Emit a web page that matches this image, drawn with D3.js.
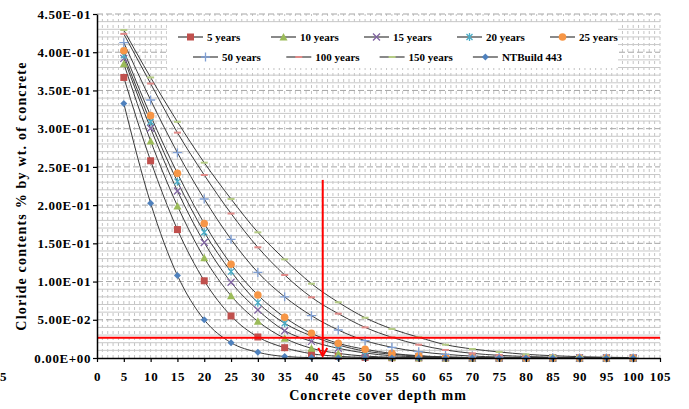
<!DOCTYPE html>
<html>
<head>
<meta charset="utf-8">
<script src="https://cdn.jsdelivr.net/npm/d3@7"></script>
<style>
  body { margin: 0; background: #fff; }
  text { font-family: "Liberation Serif", "Times New Roman", serif; font-weight: bold; fill: #000; }
</style>
</head>
<body>
<div id="chart"></div>
<script>
// depths (mm) at which every series is given
let depths = [5, 10, 15, 20, 25, 30, 35, 40, 45, 50, 55, 60, 65, 70, 75, 80, 85, 90, 95, 100];

// chloride content, one array per series
let years5   = [0.367, 0.258, 0.168, 0.101, 0.055, 0.0275, 0.0135, 0.0056, 0.0022, 0.0008, 0.0003, 0.0001, 0, 0, 0, 0, 0, 0, 0, 0];
let years10  = [0.385, 0.284, 0.199, 0.131, 0.0815, 0.048, 0.0258, 0.0127, 0.006, 0.0025, 0.001, 0.0004, 0.0001, 0, 0, 0, 0, 0, 0, 0];
let years15  = [0.392, 0.3005, 0.2185, 0.151, 0.099, 0.0628, 0.0357, 0.0218, 0.0127, 0.0065, 0.003, 0.0015, 0.0006, 0.0002, 0.0001, 0, 0, 0, 0, 0];
let years20  = [0.396, 0.309, 0.2307, 0.1645, 0.113, 0.0724, 0.0454, 0.0288, 0.017, 0.009, 0.005, 0.0025, 0.0011, 0.0005, 0.0002, 0.0001, 0, 0, 0, 0];
let years25  = [0.402, 0.317, 0.2416, 0.176, 0.1226, 0.0824, 0.0532, 0.0323, 0.0192, 0.0114, 0.006, 0.003, 0.0014, 0.0006, 0.0002, 0.0001, 0, 0, 0, 0];
let years50  = [0.4125, 0.3375, 0.2686, 0.208, 0.1553, 0.112, 0.080, 0.0554, 0.0366, 0.0227, 0.014, 0.0083, 0.0048, 0.0025, 0.0013, 0.0006, 0.0003, 0.0001, 0, 0];
let years100 = [0.424, 0.359, 0.2948, 0.2394, 0.189, 0.1448, 0.1086, 0.0794, 0.058, 0.0401, 0.0271, 0.0174, 0.0105, 0.0061, 0.0035, 0.002, 0.001, 0.0005, 0.0002, 0.0001];
let years150 = [0.429, 0.367, 0.309, 0.2555, 0.208, 0.1644, 0.129, 0.0972, 0.0729, 0.0527, 0.038, 0.0271, 0.0174, 0.0118, 0.0079, 0.0048, 0.003, 0.0017, 0.001, 0.0005];
let ntBuild  = [0.333, 0.2025, 0.108, 0.050, 0.020, 0.0075, 0.002, 0.0005, 0.0001, 0, 0, 0, 0, 0, 0, 0, 0, 0, 0, 0];

let seriesNames = ["5 years", "10 years", "15 years", "20 years", "25 years", "50 years", "100 years", "150 years", "NTBuild 443"];

// x ticks and y ticks
let xTicks = d3.range(0, 106, 5);
let yTicks = [0, 0.05, 0.10, 0.15, 0.20, 0.25, 0.30, 0.35, 0.40, 0.45];

// red guide: threshold level and the depth it is read at
let thresholdValue = 0.0266;
let arrowDepth = 42.1;
let arrowTopValue = 0.233;

let width = 689, height = 409;

let series = [
    {name: seriesNames[0], values: years5,   marker: "square",   color: "#c0504d"},
    {name: seriesNames[1], values: years10,  marker: "triangle", color: "#9bbb59"},
    {name: seriesNames[2], values: years15,  marker: "x",        color: "#8064a2"},
    {name: seriesNames[3], values: years20,  marker: "star",     color: "#4bacc6"},
    {name: seriesNames[4], values: years25,  marker: "circle",   color: "#f79646"},
    {name: seriesNames[5], values: years50,  marker: "plus",     color: "#7f9fd4"},
    {name: seriesNames[6], values: years100, marker: "dash",     color: "#e08a88"},
    {name: seriesNames[7], values: years150, marker: "dash",     color: "#b5cc85"},
    {name: seriesNames[8], values: ntBuild,  marker: "diamond",  color: "#4f81bd"}
];

let x = d3.scaleLinear().domain([0, 105]).range([97, 660]);
let y = d3.scaleLinear().domain([0, 0.45]).range([358, 14]);

let svg = d3.select("#chart")
    .append("svg")
    .attr("width", width)
    .attr("height", height);

// Grid: vertical dashed every 1 mm, horizontal every 0.01, dashed at the majors
let grid = svg.append("g");
grid.selectAll(".vgrid")
    .data(d3.range(1, 106))
    .enter()
    .append("line")
    .attr("x1", d => x(d)).attr("x2", d => x(d))
    .attr("y1", y(0)).attr("y2", y(0.45))
    .attr("stroke", "#c4c4c4")
    .attr("stroke-dasharray", "3,3");

grid.selectAll(".hgrid")
    .data(d3.range(1, 46).map(d => d / 100))
    .enter()
    .append("line")
    .attr("x1", x(0)).attr("x2", x(105))
    .attr("y1", d => y(d)).attr("y2", d => y(d))
    .attr("stroke", function (d, i) { return (i + 1) % 5 === 0 ? "#a6a6a6" : "#c8c8c8"; })
    .attr("stroke-dasharray", function (d, i) { return (i + 1) % 5 === 0 ? "6,3" : null; });

// Lines
let line = d3.line()
    .x((d, i) => x(depths[i]))
    .y(d => y(d))
    .curve(d3.curveMonotoneX);

svg.append("g").selectAll("path")
    .data(series)
    .enter()
    .append("path")
    .attr("d", d => line(d.values))
    .attr("fill", "none")
    .attr("stroke", "#3a3a3a")
    .attr("stroke-width", 1);

// Marker drawing
function drawMarker(g, type, color) {
    if (type === "square") {
        g.append("rect").attr("x", -3.5).attr("y", -3.5).attr("width", 7).attr("height", 7).attr("fill", color);
    } else if (type === "triangle") {
        g.append("path").attr("d", "M0,-4L4,3.5L-4,3.5Z").attr("fill", color);
    } else if (type === "x") {
        g.append("path").attr("d", "M-3.5,-3.5L3.5,3.5M-3.5,3.5L3.5,-3.5").attr("stroke", color).attr("stroke-width", 1.3);
    } else if (type === "star") {
        g.append("path").attr("d", "M-3,-3L3,3M-3,3L3,-3M0,-4L0,4").attr("stroke", color).attr("stroke-width", 1.3);
    } else if (type === "circle") {
        g.append("circle").attr("r", 3.8).attr("fill", color);
    } else if (type === "plus") {
        g.append("path").attr("d", "M-4.5,0L4.5,0M0,-4.5L0,4.5").attr("stroke", color).attr("stroke-width", 1.3);
    } else if (type === "dash") {
        g.append("rect").attr("x", -3.5).attr("y", -1).attr("width", 7).attr("height", 2).attr("fill", color);
    } else if (type === "diamond") {
        g.append("path").attr("d", "M0,-3.5L3.5,0L0,3.5L-3.5,0Z").attr("fill", color);
    }
}

series.forEach(function (s) {
    let g = svg.append("g");
    s.values.forEach(function (v, i) {
        let m = g.append("g").attr("transform", "translate(" + x(depths[i]) + "," + y(v) + ")");
        drawMarker(m, s.marker, s.color);
    });
});

// Red threshold line and arrow
svg.append("line")
    .attr("x1", x(0)).attr("x2", x(105))
    .attr("y1", y(thresholdValue)).attr("y2", y(thresholdValue))
    .attr("stroke", "#ff0000")
    .attr("stroke-width", 2);

let ax = x(arrowDepth);
let tipY = y(0) - 2;
svg.append("line")
    .attr("x1", ax).attr("x2", ax)
    .attr("y1", y(arrowTopValue)).attr("y2", tipY)
    .attr("stroke", "#ff0000")
    .attr("stroke-width", 2);
svg.append("path")
    .attr("d", "M" + (ax - 4.5) + "," + (tipY - 8) + "L" + ax + "," + tipY + "L" + (ax + 4.5) + "," + (tipY - 8))
    .attr("fill", "none")
    .attr("stroke", "#ff0000")
    .attr("stroke-width", 2);

// Axes
function sciFormat(d) {
    let parts = d.toExponential(2).split("e");
    let e = parseInt(parts[1], 10);
    let sign = e < 0 ? "-" : "+";
    let digits = Math.abs(e) < 10 ? "0" + Math.abs(e) : "" + Math.abs(e);
    return parts[0] + "E" + sign + digits;
}

let yAxis = svg.append("g")
    .attr("transform", "translate(" + x(0) + ",0)")
    .call(d3.axisLeft(y).tickValues(yTicks).tickFormat(sciFormat).tickSize(4).tickSizeOuter(0).tickPadding(2));

let xAxis = svg.append("g")
    .attr("transform", "translate(0," + y(0) + ")")
    .call(d3.axisBottom(x).tickValues(xTicks).tickSize(4).tickSizeOuter(0).tickPadding(10));

[xAxis, yAxis].forEach(function (a) {
    a.select(".domain").attr("stroke", "#000").attr("stroke-width", 1.5);
    a.selectAll(".tick line").attr("stroke", "#000").attr("stroke-width", 1.2);
    a.selectAll("text")
        .style("font-family", "'Liberation Serif', serif")
        .style("font-weight", "bold")
        .style("font-size", "13px")
        .style("letter-spacing", "0.6px")
        .attr("fill", "#000");
});

// Stray clipped label at the far left
svg.append("text")
    .attr("x", 0)
    .attr("y", y(0) + 23)
    .style("font-size", "13px")
    .text("5");

// Axis titles
svg.append("text")
    .attr("transform", "translate(26," + 196 + ") rotate(-90)")
    .style("text-anchor", "middle")
    .style("font-size", "14px")
    .style("letter-spacing", "1.2px")
    .text("Cloride contents % by wt. of concrete");

svg.append("text")
    .attr("x", 378)
    .attr("y", 400)
    .style("text-anchor", "middle")
    .style("font-size", "14px")
    .style("letter-spacing", "1px")
    .text("Concrete cover depth mm");

// Legend
let legend = svg.append("g");
legend.append("rect")
    .attr("x", 167).attr("y", 24)
    .attr("width", 451).attr("height", 44)
    .attr("fill", "#fff");

series.forEach(function (s, i) {
    let row = i < 5 ? 0 : 1;
    let col = i < 5 ? i : i - 5;
    let lx = row === 0 ? 178 + col * 93 : 193 + col * 93.3;
    let ly = row === 0 ? 37 : 57;
    let g = legend.append("g").attr("transform", "translate(" + lx + "," + ly + ")");
    g.append("line").attr("x1", 0).attr("x2", 25).attr("y1", 0).attr("y2", 0)
        .attr("stroke", "#3a3a3a").attr("stroke-width", 1.2);
    let m = g.append("g").attr("transform", "translate(12.5,0)");
    drawMarker(m, s.marker, s.color);
    g.append("text")
        .attr("x", 29)
        .attr("y", 4)
        .style("font-size", "11px")
        .text(s.name);
});
</script>
</body>
</html>
